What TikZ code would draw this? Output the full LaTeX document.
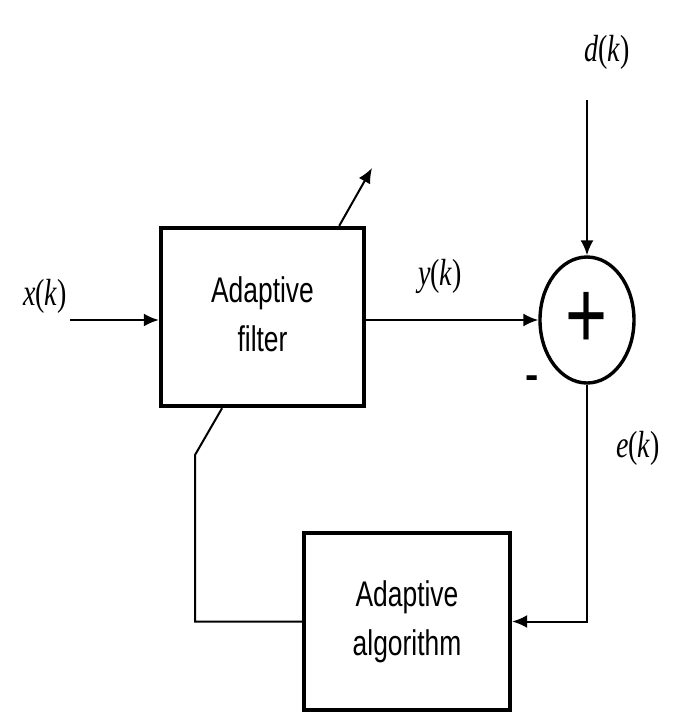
\documentclass[tikz,border=0pt]{standalone}
\usepackage{fontspec}
\setmainfont{Liberation Serif}
\setsansfont{Liberation Sans}
\usepackage{tikz}
\usetikzlibrary{arrows.meta,positioning,shapes.geometric,calc}
\newcommand{\tall}[1]{\scalebox{1}[1.35]{#1}}
\newcommand{\sig}[1]{\tall{\textit{#1}(\textit{k})}}
\newcommand{\twolines}[2]{\tall{\begin{tabular}{@{}c@{}}#1\\#2\end{tabular}}}

\begin{document}
\begin{tikzpicture}[
    x=0.5pt, y=-0.5pt,
    box/.style={draw=black, line width=2.2pt, inner sep=0pt, font=\fontsize{13.2}{18}\selectfont\sffamily},
    sum/.style={ellipse, draw=black, line width=1.7pt, minimum width=47pt, minimum height=63pt, inner sep=0pt, font=\fontsize{36}{36}\selectfont\sffamily},
    lbl/.style={inner sep=0pt, font=\fontsize{14}{16}\selectfont},
    arr/.style={-{Latex[length=7.5pt,width=6.5pt]}, line width=1pt},
    wire/.style={line width=1pt}
  ]
  \useasboundingbox (0,0) rectangle (673,714);
  \node[box, minimum width=101.5pt, minimum height=89pt] (filter) at (262.5,317) {\twolines{Adaptive}{filter}};
  \node[box, minimum width=103pt, minimum height=88.5pt] (algo) at (407,621.5) {\twolines{Adaptive}{algorithm}};
  \node[sum] (sum) at (587,320) {\tall{+}};
  \node[lbl] (xk) at (45,296) {\sig{x}};
  \node[lbl] (yk) at (440,276) {\sig{y}};
  \node[lbl] (dk) at (607,52) {\sig{d}};
  \node[lbl] (ek) at (638,448) {\sig{e}};
  \node[lbl, font=\fontsize{20}{20}\selectfont\sffamily\bfseries] (minus) at (532,382) {-};
  % free ends
  \coordinate (xin) at (70,320);
  \coordinate (din) at (587,100);
  \coordinate (tune) at (372,168);
  \coordinate (tunefoot) at ($(filter.north west)!0.87!(filter.north east)$);
  \coordinate (fbfoot) at ($(filter.south west)!0.305!(filter.south east)$);
  \coordinate (fbturn) at (195,455);
  \draw[arr] (xin) -- (xin -| filter.west);
  \draw[arr] (filter.east |- sum.west) -- (sum.west);
  \draw[arr] (din) -- (sum.north);
  \draw[arr] (sum.south) |- (algo.east);
  \draw[wire] (algo.west) -| (fbturn) -- (fbfoot);
  \draw[arr] (tunefoot) -- (tune);
\end{tikzpicture}
\end{document}
